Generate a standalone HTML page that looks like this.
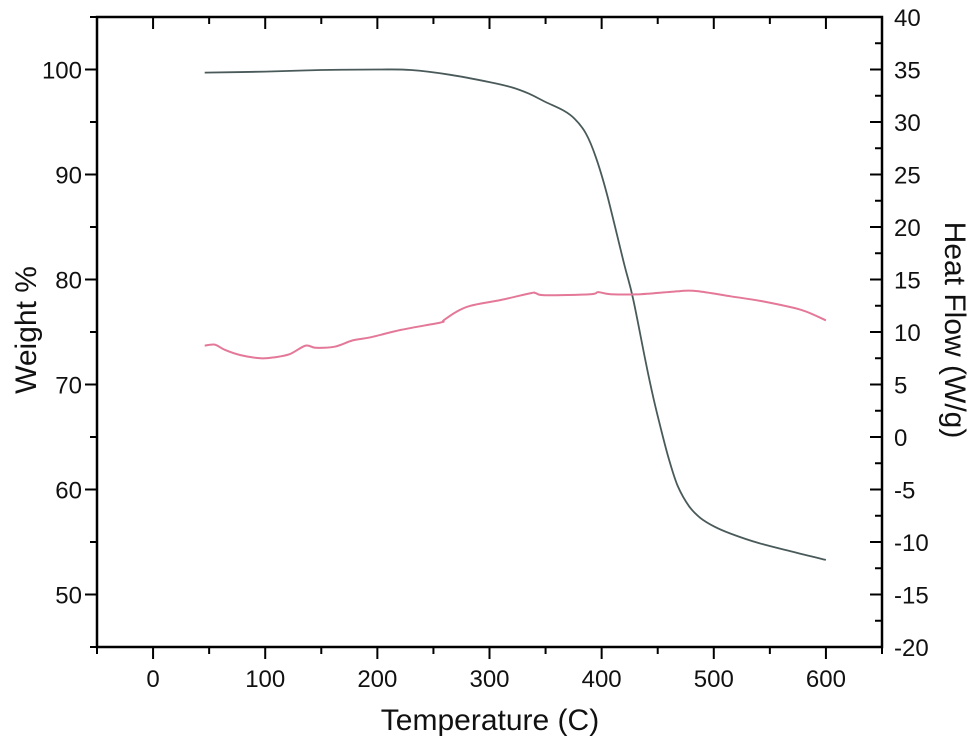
<!DOCTYPE html>
<html><head><meta charset="utf-8"><style>
html,body{margin:0;padding:0;background:#fff;}
svg text{font-family:"Liberation Sans",Arial,sans-serif;fill:#111;}
</style></head><body>
<svg id="chart" width="975" height="744" viewBox="0 0 975 744" xmlns="http://www.w3.org/2000/svg"></svg>
<script>
const weightTemps=[46,100,150,200,230,265,300,320,335,350,366,376,386,395,405,420,428,439,446,453,460,468,478,488,500,515,540,569,600];
const weightVals=[99.7,99.8,99.95,100,99.95,99.5,98.8,98.3,97.7,96.9,96.1,95.3,93.9,91.6,88,81.5,78.2,72.3,68.8,65.7,62.9,60.3,58.4,57.3,56.5,55.8,54.9,54.1,53.3];
const heatTemps=[46,55,64,78,96,109,122,136,145,162,178,194,221,256,259,270,283,310,337,341,350,390,397,408,435,470,485,515,542,578,600];
const heatVals=[8.7,8.8,8.3,7.8,7.5,7.6,7.9,8.7,8.5,8.6,9.2,9.5,10.2,10.9,11.1,11.9,12.5,13.05,13.7,13.7,13.5,13.6,13.8,13.6,13.6,13.9,13.9,13.4,12.95,12.1,11.1];
const xTicks=[0,100,200,300,400,500,600];
const yLeftTicks=[50,60,70,80,90,100];
const yRightTicks=[-20,-15,-10,-5,0,5,10,15,20,25,30,35,40];

const L=97,R=882,T=17,B=647;
const xs=v=>L+(v+50)/700*(R-L);
const yl=v=>B-(v-45)/60*(B-T);
const yr=v=>B-(v+20)/60*(B-T);
const svg=document.getElementById('chart');
const NS='http://www.w3.org/2000/svg';
function mk(tag,attrs,parent){const e=document.createElementNS(NS,tag);for(const k in attrs)e.setAttribute(k,attrs[k]);(parent||svg).appendChild(e);return e;}
function smooth(pts){let d='M'+pts[0][0].toFixed(1)+','+pts[0][1].toFixed(1);
  for(let i=0;i<pts.length-1;i++){const p0=pts[Math.max(0,i-1)],p1=pts[i],p2=pts[i+1],p3=pts[Math.min(pts.length-1,i+2)];
    const c1=[p1[0]+(p2[0]-p0[0])/6,p1[1]+(p2[1]-p0[1])/6],c2=[p2[0]-(p3[0]-p1[0])/6,p2[1]-(p3[1]-p1[1])/6];
    d+=' C'+c1.map(v=>v.toFixed(1)).join(',')+' '+c2.map(v=>v.toFixed(1)).join(',')+' '+p2[0].toFixed(1)+','+p2[1].toFixed(1);}
  return d;}

const g=mk('g',{});


const frame=mk('rect',{x:L,y:T,width:R-L,height:B-T,fill:'none',stroke:'#000','stroke-width':2.5},g);



for(let v=-50;v<=650;v+=50){
  const major=v%100===0;const len=major?12:7;const x=xs(v);
  mk('line',{x1:x,y1:B,x2:x,y2:B+len,stroke:'#000','stroke-width':2},g);
  mk('line',{x1:x,y1:T,x2:x,y2:T+len,stroke:'#000','stroke-width':2},g);
}
xTicks.forEach(v=>{const t=mk('text',{x:xs(v),y:B+40,'text-anchor':'middle','font-size':24},g);t.textContent=v;
});
for(let v=45;v<=105;v+=5){const major=v%10===0;const len=major?12:7;
  mk('line',{x1:L-len,y1:yl(v),x2:L,y2:yl(v),stroke:'#000','stroke-width':2},g);}
yLeftTicks.forEach(v=>{const t=mk('text',{x:L-15,y:yl(v)+9,'text-anchor':'end','font-size':24},g);t.textContent=v;
});
for(let v=-20;v<=40;v+=2.5){const major=v%5===0;const len=major?12:7;
  mk('line',{x1:R-len,y1:yr(v),x2:R,y2:yr(v),stroke:'#000','stroke-width':2},g);}
yRightTicks.forEach(v=>{const t=mk('text',{x:R+12,y:yr(v)+9,'text-anchor':'start','font-size':24},g);t.textContent=v;
});

const wl=mk('path',{d:smooth(weightTemps.map((t,i)=>[xs(t),yl(weightVals[i])])),fill:'none',stroke:'#4a5a5a','stroke-width':1.8});


const hl=mk('path',{d:smooth(heatTemps.map((t,i)=>[xs(t),yr(heatVals[i])])),fill:'none',stroke:'#e47898','stroke-width':2});



const xt=mk('text',{x:490,y:730,'text-anchor':'middle','font-size':30});xt.textContent='Temperature (C)';

const ylt=mk('text',{x:0,y:0,'text-anchor':'middle','font-size':30,transform:'translate(36,330) rotate(-90)'});ylt.textContent='Weight %';

const yrt=mk('text',{x:0,y:0,'text-anchor':'middle','font-size':30,transform:'translate(945,330) rotate(90)'});yrt.textContent='Heat Flow (W/g)';

</script>
</body></html>
